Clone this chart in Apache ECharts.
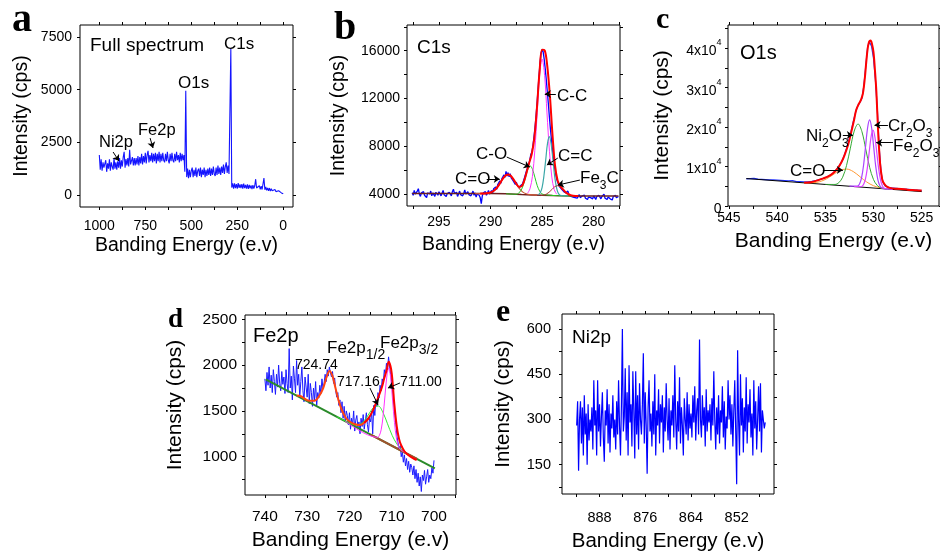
<!DOCTYPE html>
<html>
<head>
<meta charset="utf-8">
<script src="https://cdn.jsdelivr.net/npm/echarts@6/dist/echarts.min.js"></script>
<style>
  html, body { margin: 0; padding: 0; background: #fff; }
  #chart { width: 940px; height: 553px; }
</style>
</head>
<body>
<div id="chart"></div>
<script>
  // ---- panel a : full spectrum (1000 -> 0 eV, every 5 eV)
  var aStart = 1000, aStep = 5;
  var aIntensity = [
    1900, 1200, 1700, 1150, 1550, 1300, 1250, 1650, 1100, 1500, 1250, 1700, 1150, 1550, 1350, 1200, 1750, 1250, 1550, 1200,
    1600, 1300, 1750, 1250, 1650, 1350, 1800, 2050, 1300, 1700, 1400, 1750, 1350, 2150, 1450, 1400, 1800, 1400, 1750, 1400,
    1750, 1450, 1850, 1400, 1800, 1500, 1950, 1450, 1850, 1550, 2000, 1500, 1900, 2100, 1550, 1900, 1600, 2000, 1550, 1950,
    1600, 2000, 1500, 1950, 1600, 2050, 1550, 1950, 1600, 2000, 1650, 1550, 1950, 1600, 2050, 1650, 1500, 1950, 1600, 2000,
    1650, 1550, 1950, 1600, 2050, 1650, 1900, 1550, 2000, 1600, 1950, 1650, 1900, 1100, 4950, 850, 1250, 800, 1200, 850,
    1150, 1300, 850, 1200, 900, 1300, 850, 1150, 1250, 900, 1300, 850, 1200, 950, 1300, 850, 1200, 900, 1250, 950,
    1300, 900, 1250, 950, 1350, 1000, 900, 1300, 950, 1400, 1000, 1300, 950, 1350, 1050, 1450, 1000, 1350, 1550, 1050,
    1400, 1000, 1000, 6950, 350, 550, 300, 550, 330, 520, 300, 560, 340, 500, 330, 520, 300, 540, 330, 480,
    300, 500, 290, 480, 320, 460, 280, 470, 300, 440, 750, 330, 420, 280, 440, 270, 420, 260, 300, 800,
    250, 380, 220, 340, 200, 330, 190, 300, 200, 280, 150, 260, 160, 220, 140, 200, 120, 180, 100, 150,
    60
  ];
  var aXLabels = [0, 250, 500, 750, 1000];
  var aXTicks = [0, 125, 250, 375, 500, 625, 750, 875, 1000];
  var aYLabels = [0, 2500, 5000, 7500];
  var aYTicks = [0, 2500, 5000, 7500];

  // ---- panel b : C1s (297.6 -> 277.6 eV, every 0.1 eV)
  var bStart = 297.6, bStep = 0.1;
  var bIntensity = [
    4100, 3900, 4300, 4000, 3850, 4250, 4450, 4000, 3800, 4100, 3950, 4200, 3900, 4050, 3700, 4100, 3950,
    4000, 4250, 3850, 4100, 3950, 3800, 4150, 4000, 3900, 4200, 4050, 3850, 4000, 4300, 3950, 4100, 3800, 4050, 3900, 4150,
    4000, 3850, 4200, 4400, 4050, 3900, 4150, 3800, 4000, 4250, 3950, 4100, 3850, 4050, 4350, 4000, 3900, 4200, 3950, 4100,
    3850, 4000, 4250, 3900, 4100, 3750, 4000, 4150, 3900, 3700, 3200, 3850, 4100, 3950, 4200, 3900, 4050, 4300, 4000, 4150,
    4300, 4100, 4450, 4300, 4600, 4400, 4800, 4650, 5100, 4900, 5300, 5150, 5600, 5400, 5900, 5500, 5800, 5450, 5700, 5350,
    5500, 5100, 5250, 4800, 5000, 4700, 4800, 4500, 4700, 4550, 4850, 5000, 5400, 5500, 6000, 6200, 6500, 6800, 7300, 7500,
    8000, 8700, 9500, 10400, 11500, 12700, 13900, 15000, 15800, 16100, 15900, 15300, 14500, 13600, 12600, 11600, 10500, 9500, 8600, 7700,
    7000, 6300, 5800, 5300, 5000, 4900, 4600, 4700, 4400, 4500, 4200, 4350, 4100, 4000, 4250, 3900, 4050, 3800, 3950, 3750,
    3900, 3700, 3850, 3650, 3800, 3950, 3700, 3600, 3850, 3750, 3900, 3650, 3800, 3550, 3750, 3900, 3700, 3800, 3600, 3850,
    3700, 3550, 3800, 3650, 3900, 3750, 3600, 3800, 3700, 4000, 3650, 3800, 3550, 3750, 3850, 3600, 3700, 3500, 3800, 3650, 3900, 3700, 3600, 3800
  ];
  var bBackground = [[297.6, 4050], [290, 4040], [288.5, 4020], [288, 4000], [287, 3960], [286, 3930], [285, 3900], [284, 3870], [283, 3850], [282, 3840], [277.6, 3830]];
  var bCarbonylFit = [[291.5, 4040], [290.4, 4058], [290.05, 4112], [289.7, 4260], [289.35, 4560], [289.0, 5020], [288.65, 5465], [288.3, 5650], [287.95, 5445], [287.6, 4990], [287.25, 4515], [286.9, 4180], [286.55, 4020], [286.2, 3950], [285.5, 3910]];
  var bCOFit = [[288.5, 4020], [287.5, 3985], [287.28, 4080], [287.05, 4300], [286.83, 4740], [286.6, 5410], [286.38, 6070], [286.15, 6350], [285.93, 6060], [285.7, 5400], [285.48, 4720], [285.25, 4260], [285.03, 4030], [284.8, 3950], [283.5, 3860], [281.5, 3840]];
  var bCCFit = [[286.41, 4070], [286.18, 4440], [285.94, 5480], [285.71, 7640], [285.47, 10850], [285.24, 14000], [285.0, 15300], [284.76, 13940], [284.53, 10790], [284.29, 7580], [284.06, 5420], [283.83, 4380], [283.59, 3990]];
  var bCdCFit = [[285.35, 3950], [285.18, 4110], [285.0, 4560], [284.83, 5490], [284.65, 6870], [284.48, 8230], [284.3, 8800], [284.13, 8210], [283.95, 6850], [283.78, 5460], [283.6, 4520], [283.43, 4060], [283.25, 3900], [282.5, 3845]];
  var bFe3CFit = [[285.15, 3870], [284.88, 3910], [284.6, 3990], [284.33, 4150], [284.05, 4380], [283.78, 4610], [283.5, 4700], [283.23, 4600], [282.95, 4365], [282.68, 4120], [282.4, 3960], [282.13, 3880], [281.85, 3850]];
  var bEnvelope = [[291, 4040], [290.5, 4052], [290, 4125], [289.75, 4231], [289.5, 4415], [289.25, 4689], [289, 5029], [288.75, 5356], [288.5, 5585], [288.25, 5637], [288, 5487], [287.75, 5191], [287.5, 4855], [287.25, 4619], [287, 4652], [286.75, 5083], [286.5, 5837], [286.25, 6620], [286, 7377], [285.75, 8722], [285.5, 11241], [285.25, 14252], [285, 16079], [284.75, 16024], [284.5, 14707], [284.25, 12277], [284, 9028], [283.75, 6392], [283.5, 5137], [283.25, 4683], [283, 4417], [282.75, 4180], [282.5, 4008], [282.25, 3907], [282, 3861], [281.5, 3840]];
  var bXLabels = [280, 285, 290, 295];
  var bXTicks = [277.5, 280, 282.5, 285, 287.5, 290, 292.5, 295, 297.5];
  var bYLabels = [4000, 8000, 12000, 16000];
  var bYTicks = [4000, 6000, 8000, 10000, 12000, 14000, 16000, 18000];

  // ---- panel c : O1s (543.2 -> 525 eV, every 0.2 eV)
  var cStart = 543.2, cStep = 0.2;
  var cIntensity = [
    6900, 7050, 6950, 6850, 7000, 6900, 6800, 6950, 6750, 6850, 6700, 6800, 6650, 6750, 6600, 6700, 6550, 6650, 6500, 6600,
    6450, 6550, 6400, 6300, 6450, 6300, 6200, 6350, 6200, 6100, 6150,
    6050, 6150, 6100, 6250, 6300, 6450, 6500, 6700, 6800, 7000, 7150,
    7400, 7650, 7950, 8300, 8800, 9300, 10000, 10800, 11800, 13100,
    14600, 16300, 18200, 20300, 22400, 24300, 25600, 26300, 27300, 30500,
    35500, 40500, 41500, 40500, 37500, 32000, 24500, 14500, 8300, 5900,
    5100, 4800, 4650, 4500, 4550, 4400, 4450, 4300, 4350, 4200,
    4300, 4150, 4250, 4050, 4150, 3950, 4050, 3900, 3950, 3850
  ];
  var cBackground = [[543.2, 6960], [525, 3650]];
  var cCarbonylFit = [[537.0, 5882], [536.3, 5896], [535.6, 6161], [534.9, 6848], [534.2, 7932], [533.5, 8992], [532.8, 9370], [532.1, 8737], [531.4, 7423], [530.7, 6083], [530.0, 5142], [529.3, 4622], [528.6, 4353]];
  var cNi2O3Fit = [[535.0, 5470], [534.0, 5465], [533.6, 5915], [533.2, 7300], [532.8, 10249], [532.4, 14671], [532.0, 19000], [531.6, 20801], [531.2, 18854], [530.8, 14380], [530.4, 9812], [530.0, 6718], [529.6, 5187], [529.2, 4591], [528.5, 4290]];
  var cCr2O3Fit = [[532.5, 5015], [531.66, 5053], [531.45, 5579], [531.24, 7113], [531.03, 10333], [530.82, 15141], [530.61, 19850], [530.4, 21833], [530.19, 19774], [529.98, 14988], [529.77, 10103], [529.56, 6807], [529.35, 5197], [529.14, 4594], [528.5, 4290]];
  var cFe2O3Fit = [[532.0, 4924], [531.25, 4951], [531.05, 5395], [530.85, 6698], [530.65, 9436], [530.45, 13528], [530.25, 17535], [530.05, 19219], [529.85, 17462], [529.65, 13382], [529.45, 9217], [529.25, 6406], [529.05, 5031], [528.85, 4514], [528.0, 4196]];
  var cEnvelope = [[537.2, 5900], [536.5, 6050], [535.8, 6500], [535.2, 7000], [534.7, 7500], [534.2, 8300], [533.7, 9600], [533.3, 11200], [533.0, 12900], [532.6, 15800], [532.3, 18800], [532.0, 22000], [531.8, 24300], [531.5, 26000], [531.3, 26900], [531.1, 28500], [530.9, 32400], [530.75, 36500], [530.6, 40000], [530.45, 41700], [530.3, 41950], [530.15, 41000], [530.0, 39000], [529.85, 34500], [529.7, 29000], [529.5, 18000], [529.3, 10400], [529.1, 6800], [529.0, 6100], [528.7, 5100], [528.3, 4600], [527.5, 4350], [526.5, 4150], [525.5, 4000], [525.0, 3900]];
  var cXLabels = [525, 530, 535, 540, 545];
  var cXTicks = [525, 527.5, 530, 532.5, 535, 537.5, 540, 542.5, 545];
  var cYLabels = [0, 10000, 20000, 30000, 40000];
  var cYTicks = [0, 5000, 10000, 15000, 20000, 25000, 30000, 35000, 40000, 45000];

  // ---- panel d : Fe2p (740 -> 700 eV, every 0.25 eV)
  var dStart = 740, dStep = 0.25;
  var dIntensity = [
    1850, 1720, 1920, 1780, 1980, 1750, 1890, 1700, 1950, 1820, 1680, 1900, 1760, 2000, 1800, 1720, 1930, 1790, 1870, 1690,
    1950, 1800, 1700, 2180, 1750, 1880, 1620, 1990, 1850, 1700, 2050, 1780, 1900, 1650, 1820, 1980, 1720, 1600, 1870, 1760,
    1650, 1900, 1580, 1800, 1700, 1550, 1750, 1620, 1820, 1560, 1700, 1640, 1780, 1690, 1850, 1740, 1800, 1900, 1820, 1950,
    1880, 1980, 1920, 1870, 1930, 1800, 1860, 1720, 1650, 1700, 1560, 1620, 1480, 1600, 1420, 1550, 1380, 1500, 1450, 1350,
    1480, 1300, 1420, 1350, 1500, 1280, 1400, 1450, 1320, 1380, 1250, 1420, 1330, 1460, 1300, 1390, 1480, 1350, 1270, 1420,
    1380, 1500, 1250, 1560, 1450, 1620, 1550, 1700, 1640, 1780, 1720, 1850, 1800, 1950, 1880, 2020, 1950, 2090, 1980, 1900,
    1880, 1720, 1600, 1450, 1350, 1220, 1150, 1080, 1120, 1000, 1060, 940, 1020, 900, 980, 860, 950, 830, 920, 880,
    800, 900, 760, 860, 720, 820, 680, 780, 620, 800, 740, 850, 700, 780, 860, 720, 800, 760, 880, 820,
    960
  ];
  var dBackground = [[739.8, 1845], [699.8, 873]];
  var dBackgroundMid = [[715, 1242], [704, 975]];
  var dSatelliteFit = [[723, 1437], [719.8, 1363], [718.7, 1348], [717.6, 1354], [716.5, 1394], [715.4, 1467], [714.3, 1538], [713.2, 1554], [712.1, 1485], [711.0, 1360], [709.9, 1233], [708.8, 1140], [707.7, 1081], [706.6, 1042]];
  var dFe2p32Fit = [[721, 1388], [713.4, 1212], [712.95, 1229], [712.5, 1294], [712.05, 1441], [711.6, 1663], [711.15, 1881], [710.7, 1968], [710.25, 1859], [709.8, 1619], [709.35, 1375], [708.9, 1206], [708.45, 1119], [708.0, 1081], [706.5, 1036]];
  var dEnvelopeLeft = [[732.5, 1668], [731.5, 1660], [730.5, 1630], [729.5, 1610], [728.2, 1612], [727.2, 1660], [726.2, 1750], [725.4, 1870], [724.7, 1935], [724.0, 1880], [723.4, 1770], [722.6, 1620], [721.8, 1510], [720.8, 1420], [719.9, 1382], [718.7, 1355], [717.5, 1346], [716.5, 1370], [715.5, 1419]];
  var dEnvelopeRight = [[716.5, 1370], [715.5, 1419], [714.5, 1500], [713.6, 1600], [712.4, 1747], [711.8, 1850], [711.2, 1947], [710.7, 2037], [710.3, 1990], [710.0, 1911], [709.7, 1760], [709.4, 1583], [708.8, 1328], [708.3, 1200], [707.8, 1128], [707.0, 1060], [706.1, 1019], [705.0, 985], [704.1, 964]];
  var dXLabels = [700, 710, 720, 730, 740];
  var dXTicks = [695, 700, 705, 710, 715, 720, 725, 730, 735, 740];
  var dYLabels = [1000, 1500, 2000, 2500];
  var dYTicks = [750, 1000, 1250, 1500, 1750, 2000, 2250, 2500];

  // ---- panel e : Ni2p (894 -> 844.5 eV, every 0.25 eV)
  var eStart = 894, eStep = 0.25;
  var eIntensity = [
    280, 360, 130, 300, 360, 220, 340, 180, 380, 250, 320, 150, 350, 230, 300, 260, 340, 200, 430, 280,
    330, 180, 430, 260, 350, 210, 310, 390, 240, 160, 330, 280, 400, 220, 350, 190, 320, 270, 380, 240,
    300, 200, 360, 250, 430, 280, 180, 350, 600, 260, 310, 470, 230, 390, 180, 480, 290, 350, 210, 460,
    330, 170, 460, 250, 380, 200, 420, 300, 250, 350, 520, 220, 390, 280, 120, 340, 430, 260, 320, 210,
    360, 250, 450, 180, 330, 280, 400, 220, 350, 290, 380, 190, 340, 260, 420, 300, 230, 370, 200, 330,
    280, 380, 240, 480, 300, 200, 360, 260, 440, 220, 340, 280, 180, 370, 300, 250, 390, 230, 350, 270,
    320, 240, 380, 290, 410, 230, 330, 370, 250, 565, 300, 240, 380, 280, 340, 210, 400, 260, 330, 290,
    350, 230, 370, 280, 460, 300, 200, 340, 250, 380, 220, 330, 290, 410, 240, 360, 200, 310, 270, 430,
    300, 380, 250, 350, 210, 330, 430, 260, 85, 530, 300, 180, 450, 280, 370, 190, 340, 260, 440, 220,
    350, 290, 400, 240, 320, 180, 430, 270, 360, 200, 300, 410, 260, 420, 190, 330, 300, 270, 290
  ];
  var eXLabels = [852, 864, 876, 888];
  var eXTicks = [846, 852, 858, 864, 870, 876, 882, 888, 894];
  var eYLabels = [150, 300, 450, 600];
  var eYTicks = [75, 150, 225, 300, 375, 450, 525, 600];

  var FONT = 'Liberation Sans, Arial, sans-serif';

  function sampled(start, step, values) {
    return values.map(function (v, i) {
      return [Math.round((start - i * step) * 1000) / 1000, v];
    });
  }

  var panels = [
    {box: [80, 25, 213, 182], x: [-53, 1105], y: [-570, 8070], xl: aXLabels, xt: aXTicks, yl: aYLabels, yt: aYTicks, fs: 14, ns: 19.5, lm: [12, 8], ng: [29, 48]},
    {box: [407, 25, 213, 181], x: [277.45, 298.1], y: [3000, 18150], xl: bXLabels, xt: bXTicks, yl: bYLabels, yt: bYTicks, fs: 14, ns: 19.5, lm: [9, 7], ng: [29, 58]},
    {box: [728, 25, 211, 181], x: [523.2, 545.1], y: [0, 45900], xl: cXLabels, xt: cXTicks, yl: cYLabels, yt: cYTicks, fs: 14, ns: 21, lm: [5, 6.5], ng: [25, 55], sup: true},
    {box: [245, 315, 211, 180], x: [694.8, 744.7], y: [582, 2547], xl: dXLabels, xt: dXTicks, yl: dYLabels, yt: dYTicks, fs: 15.5, ns: 21, lm: [14, 8], ng: [35, 59]},
    {box: [562, 314, 212, 180], x: [842.2, 897.85], y: [52.5, 650], xl: eXLabels, xt: eXTicks, yl: eYLabels, yt: eYTicks, fs: 14.5, ns: 20.5, lm: [16, 11], ng: [37, 48]}
  ];

  function plain(v) { return String(v); }
  function tickStyle(values) {
    return {show: true, inside: false, length: 3, customValues: values, lineStyle: {color: '#000', width: 1}};
  }

  var grids = [], xAxes = [], yAxes = [];
  panels.forEach(function (p, i) {
    grids.push({left: p.box[0], top: p.box[1], width: p.box[2], height: p.box[3],
      show: true, borderColor: '#000', borderWidth: 1, backgroundColor: 'transparent'});
    xAxes.push({
      gridIndex: i, type: 'value', inverse: true, min: p.x[0], max: p.x[1], position: 'bottom',
      axisLine: {show: false, onZero: false}, splitLine: {show: false},
      axisTick: tickStyle(p.xt),
      axisLabel: {customValues: p.xl, formatter: plain, fontSize: p.fs, fontFamily: FONT, color: '#000', margin: p.lm[0]},
      name: 'Banding Energy (e.v)', nameLocation: 'middle', nameGap: p.ng[0],
      nameTextStyle: {fontSize: p.ns, fontFamily: FONT, color: '#000'}
    });
    xAxes.push({
      gridIndex: i, type: 'value', inverse: true, min: p.x[0], max: p.x[1], position: 'top',
      axisLine: {show: false, onZero: false}, splitLine: {show: false},
      axisTick: tickStyle(p.xt), axisLabel: {show: false}
    });
    var yLabel = {customValues: p.yl, formatter: plain, fontSize: p.fs, fontFamily: FONT, color: '#000', margin: p.lm[1]};
    if (p.sup) {
      yLabel.formatter = function (v) {
        return v === 0 ? '{b|0}' : '{b|' + (v / 10000) + 'x10}{s|4}';
      };
      yLabel.rich = {
        b: {fontSize: p.fs, fontFamily: FONT, color: '#000', lineHeight: 20, verticalAlign: 'bottom'},
        s: {fontSize: 9, fontFamily: FONT, color: '#000', lineHeight: 9, verticalAlign: 'top'}
      };
    }
    yAxes.push({
      gridIndex: i, type: 'value', min: p.y[0], max: p.y[1], position: 'left',
      axisLine: {show: false, onZero: false}, splitLine: {show: false},
      axisTick: tickStyle(p.yt),
      axisLabel: yLabel,
      name: 'Intensity (cps)', nameLocation: 'middle', nameGap: p.ng[1],
      nameTextStyle: {fontSize: p.ns, fontFamily: FONT, color: '#000'}
    });
    yAxes.push({
      gridIndex: i, type: 'value', min: p.y[0], max: p.y[1], position: 'right',
      axisLine: {show: false, onZero: false}, splitLine: {show: false},
      axisTick: tickStyle(p.yt), axisLabel: {show: false}
    });
  });

  function line(p, data, color, width, z, smooth) {
    return {
      type: 'line', xAxisIndex: 2 * p, yAxisIndex: 2 * p, data: data,
      symbol: 'none', smooth: smooth || false, z: z || 2, silent: true,
      lineStyle: {color: color, width: width}
    };
  }

  function arrows(list) {
    return {
      silent: true, symbol: ['none', 'arrow'], symbolSize: 6, animation: false,
      label: {show: false}, lineStyle: {color: '#000', width: 1, type: 'solid'},
      emphasis: {disabled: true},
      data: list.map(function (a) { return [{coord: a[0]}, {coord: a[1]}]; })
    };
  }

  var series = [];
  var sa = line(0, sampled(aStart, aStep, aIntensity), '#1414ff', 1.1, 2);
  sa.markLine = arrows([[[925, 2040], [893, 1613]], [[724, 2704], [708, 2230]]]);
  series.push(sa);

  var sb = line(1, sampled(bStart, bStep, bIntensity), '#0000ff', 1.3, 2);
  sb.markLine = arrows([
    [[283.67, 12370], [284.74, 12370]],
    [[283.48, 7013], [284.54, 6427]],
    [[288.43, 7097], [286.19, 6260]],
    [[290.37, 5256], [289.11, 5256]],
    [[281.34, 5172], [283.48, 4753]]
  ]);
  series.push(sb);
  series.push(line(1, bBackground, '#6b2020', 1.5, 3));
  series.push(line(1, bCarbonylFit, '#cc5533', 1.2, 3, 0.35));
  series.push(line(1, bCOFit, '#22cc22', 1, 3, 0.35));
  series.push(line(1, bCCFit, '#ff33ff', 1, 3, 0.35));
  series.push(line(1, bCdCFit, '#3aa7a7', 1.2, 3, 0.35));
  series.push(line(1, bFe3CFit, '#b03a3a', 1, 3, 0.35));
  series.push(line(1, bEnvelope, '#ff0000', 2, 4, 0.35));

  var sc = line(2, sampled(cStart, cStep, cIntensity), '#2233ff', 1.2, 2);
  sc.markLine = arrows([
    [[528.5, 20560], [529.89, 20560]],
    [[527.98, 16070], [529.72, 16070]],
    [[533.18, 18020], [532.14, 18020]],
    [[535.26, 9140], [533.18, 9140]]
  ]);
  series.push(sc);
  series.push(line(2, cBackground, '#000000', 1, 3));
  series.push(line(2, cCarbonylFit, '#ff9933', 1, 3, 0.35));
  series.push(line(2, cNi2O3Fit, '#33aa33', 1, 3, 0.35));
  series.push(line(2, cCr2O3Fit, '#aa44ff', 1.2, 3, 0.35));
  series.push(line(2, cFe2O3Fit, '#dd44ff', 1.2, 3, 0.35));
  series.push(line(2, cEnvelope, '#ff0000', 2, 4, 0.35));

  var sd = line(3, sampled(dStart, dStep, dIntensity), '#1a1aff', 1, 2);
  sd.markLine = arrows([
    [[715.15, 1750], [713.25, 1565]],
    [[708.05, 1805], [710.89, 1750]]
  ]);
  series.push(sd);
  series.push(line(3, dBackground, '#2a8a2a', 2, 3));
  series.push(line(3, dBackgroundMid, '#a0522d', 2, 3));
  series.push(line(3, dSatelliteFit, '#33ee33', 1, 3, 0.35));
  series.push(line(3, dFe2p32Fit, '#ff33ff', 1, 3, 0.35));
  series.push(line(3, dEnvelopeLeft, '#ff4411', 2, 4, 0.35));
  series.push(line(3, dEnvelopeRight, '#ff0000', 2, 4, 0.35));

  series.push(line(4, sampled(eStart, eStep, eIntensity), '#0000ff', 1.2, 2));

  function txt(left, top, text, size) {
    return {type: 'text', left: left, top: top, silent: true, z: 10,
      style: {text: text, fontSize: size, fontFamily: FONT, fill: '#000'}};
  }
  function subTxt(left, top, text, size, subSize) {
    return {type: 'text', left: left, top: top, silent: true, z: 10,
      style: {text: text, fontSize: size, fontFamily: FONT, fill: '#000',
        rich: {
          n: {fontSize: size, lineHeight: size, verticalAlign: 'top', fontFamily: FONT, fill: '#000'},
          s: {fontSize: subSize, lineHeight: size + 5, verticalAlign: 'bottom', fontFamily: FONT, fill: '#000'}
        }}};
  }
  function letter(left, bottom, text, size) {
    return {type: 'text', left: left, top: bottom - size, silent: true, z: 10,
      style: {text: text, fontSize: size, fontWeight: 'bold', fontFamily: 'Liberation Serif, Times New Roman, serif', fill: '#000'}};
  }

  var graphics = [
    letter(12, 41, 'a', 40), letter(334, 49, 'b', 40), letter(656, 35, 'c', 30),
    letter(168, 334, 'd', 27), letter(496, 329, 'e', 32),
    txt(90, 36, 'Full spectrum', 19), txt(224, 35.5, 'C1s', 17), txt(178, 75, 'O1s', 17),
    txt(138, 121.5, 'Fe2p', 16.5), txt(99, 134, 'Ni2p', 16.5),
    txt(417, 38, 'C1s', 19), txt(557, 88, 'C-C', 17), txt(558, 148, 'C=C', 17),
    txt(476, 146, 'C-O', 17), txt(455, 171, 'C=O', 17),
    subTxt(580, 170, '{n|Fe}{s|3}{n|C}', 17, 12),
    txt(740, 43, 'O1s', 20),
    subTxt(888, 118, '{n|Cr}{s|2}{n|O}{s|3}', 17, 12),
    subTxt(893, 138, '{n|Fe}{s|2}{n|O}{s|3}', 17, 12),
    subTxt(806, 128, '{n|Ni}{s|2}{n|O}{s|3}', 17, 12),
    txt(790, 163, 'C=O', 17),
    txt(253, 326, 'Fe2p', 20),
    subTxt(327, 340, '{n|Fe2p}{s|1/2}', 17, 14),
    subTxt(380, 335, '{n|Fe2p}{s|3/2}', 17, 14),
    txt(295, 358.5, '724.74', 14), txt(337, 375.5, '717.16', 14), txt(400, 375.5, '711.00', 14),
    txt(572, 328, 'Ni2p', 19)
  ];

  var chart = echarts.init(document.getElementById('chart'), null, {renderer: 'canvas'});
  chart.setOption({
    animation: false,
    backgroundColor: '#fff',
    grid: grids,
    xAxis: xAxes,
    yAxis: yAxes,
    series: series,
    graphic: graphics
  });
</script>
</body>
</html>
